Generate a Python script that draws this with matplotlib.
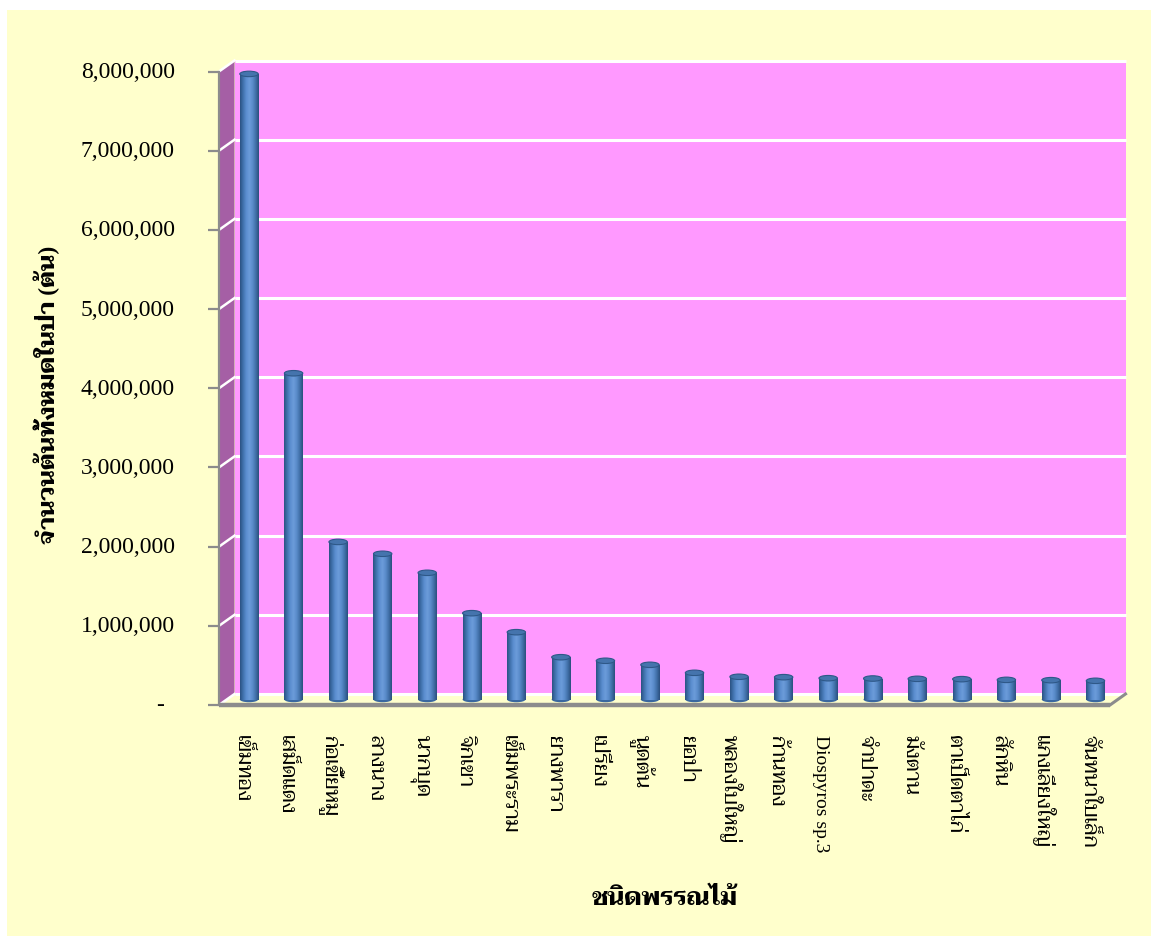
import glob
import matplotlib
matplotlib.use("Agg")
import matplotlib.pyplot as plt
from matplotlib import font_manager as fm
from matplotlib.patches import Rectangle, Ellipse, Polygon
import numpy as np

for f in glob.glob("/usr/share/fonts/truetype/google-fonts/Taviraj-*.ttf"):
    try:
        fm.fontManager.addfont(f)
    except Exception:
        pass

FAM = ["Liberation Serif", "Taviraj", "DejaVu Sans"]
plt.rcParams["font.family"] = FAM

# ---------------- data ----------------
species = ["เข็มทอง", "เสม็ดแดง", "ก่อเขี้ยหมู", "ลางนาง", "นากบุด", "จิกเขา",
           "เข็มพระราม", "ยางพารา", "เปรียง", "นูดต้น", "ยอป่า", "พลองใบใหญ่",
           "ก้านทอง", "Diospyros sp.3", "จำปาดะ", "มังตาน", "ตาเป็ดตาไก่",
           "สักหิน", "แกงเลียงใหญ่", "จันทนาใบเล็ก"]
counts = [7900000, 4120000, 1990000, 1840000, 1600000, 1090000, 850000,
          534000, 489000, 438000, 337000, 287000, 282000, 269000, 265000,
          261000, 257000, 248000, 244000, 236000]
yticks = [0, 1000000, 2000000, 3000000, 4000000, 5000000, 6000000, 7000000, 8000000]
ylabel = "จำนวนต้นทั้งหมดในป่า (ต้น)"
xlabel = "ชนิดพรรณไม้"

# ---------------- layout ----------------
W, H = 1151, 937
fig = plt.figure(figsize=(W / 100, H / 100), dpi=100, facecolor="white")
fig.patches.append(Rectangle((7 / W, 0), 1 - 7 / W, 1 - 11 / H, transform=fig.transFigure,
                             facecolor="#FFFFCC", edgecolor="none", zorder=-10))

ax_l, ax_r, ax_b, ax_t = 219, 1110, 706, 72.5
ax = fig.add_axes([ax_l / W, (H - ax_b) / H, (ax_r - ax_l) / W, (ax_b - ax_t) / H])
ax.patch.set_visible(False)
n = len(species)
ax.set_xlim(-0.5, n - 0.5)
ax.set_ylim(0, 8000000)

px_x = (ax_r - ax_l) / n           # pixels per category
px_y = (ax_b - ax_t) / 8000000     # pixels per unit
DEPTH_X, DEPTH_Y = 15.5, 11.0      # pixels
dx = DEPTH_X / px_x
dy = DEPTH_Y / px_y

PINK = "#FF99FF"
WALL = "#A55FA5"
GRAY = "#8C8C8C"

# back wall
ax.add_patch(Rectangle((-0.5 + dx, dy), n, 8000000, facecolor=PINK, edgecolor="none",
                       zorder=0, clip_on=False))
# left side wall
ax.add_patch(Polygon([(-0.5, 0), (-0.5, 8000000), (-0.5 + dx, 8000000 + dy), (-0.5 + dx, dy)],
                     closed=True, facecolor=WALL, edgecolor="none", zorder=0, clip_on=False))
# gridlines on walls
for t in yticks:
    ax.plot([-0.5 + dx, n - 0.5 + dx], [t + dy, t + dy], color="white", lw=2.2,
            zorder=1, clip_on=False, solid_capstyle="butt")
    ax.plot([-0.5, -0.5 + dx], [t, t + dy], color="white", lw=1.8, zorder=1, clip_on=False)
# floor edges
ax.plot([-0.5, n - 0.5], [0, 0], color=GRAY, lw=3.2, zorder=5, clip_on=False,
        solid_capstyle="butt")
ax.plot([n - 0.5, n - 0.5 + dx], [0, dy], color=GRAY, lw=2.2, zorder=5, clip_on=False)
ax.plot([-0.5, -0.5], [0, 8000000], color=GRAY, lw=1.6, zorder=5, clip_on=False)

# cylinders
bw = 18.4 / px_x
eh = 5.5 / px_y
cmap = matplotlib.colors.LinearSegmentedColormap.from_list(
    "cyl", ["#2A5283", "#4273AE", "#5B8ED0", "#6C9CDA", "#5A8CCB", "#4271AA", "#2A4F7E"])
grad = np.linspace(0, 1, 64).reshape(1, -1)
for i, v in enumerate(counts):
    cx = i + dx / 2
    y0 = dy / 2
    ax.add_patch(Ellipse((cx, y0), bw, eh, facecolor="#3A68A0", edgecolor="none",
                         zorder=6, clip_on=False))
    ax.imshow(grad, cmap=cmap, extent=(cx - bw / 2, cx + bw / 2, y0, y0 + v),
              aspect="auto", zorder=7, clip_on=False, interpolation="bilinear")
    ax.add_patch(Ellipse((cx, y0 + v), bw, eh, facecolor="#4574AD", edgecolor="#2E5888",
                         lw=0.8, zorder=8, clip_on=False))
ax.set_xlim(-0.5, n - 0.5)
ax.set_ylim(0, 8000000)

for s in ax.spines.values():
    s.set_visible(False)

# y ticks (labels drawn as text)
ax.set_yticks(yticks)
ax.set_yticklabels([])
ax.tick_params(axis="y", length=8, width=1.6, color=GRAY, direction="out")
ax.set_xticks([])
ytrans = matplotlib.transforms.blended_transform_factory(fig.transFigure, ax.transData)
for t in yticks:
    lab = "-" if t == 0 else f"{t:,}"
    xo = 160 if t == 0 else 175
    ax.text(xo / W, t, lab, transform=ytrans, ha="right" if t else "center", va="center",
            fontsize=17, family=FAM, color="black")

# x labels
for i, s in enumerate(species):
    fs = 14 if s.isascii() else 15
    ax.text(i, -29 / px_y, s, rotation=270, ha="center", va="top", fontsize=fs,
            family=FAM, color="black", clip_on=False)

fig.text(47 / W, 1 - 395 / H, ylabel, rotation=90, ha="center", va="center",
         fontsize=17, fontweight="bold", family=FAM)
fig.text(665 / W, 1 - 899 / H, xlabel, ha="center", va="center",
         fontsize=17.5, fontweight="bold", family=FAM)

fig.savefig("out.png", dpi=100, facecolor=fig.get_facecolor())
